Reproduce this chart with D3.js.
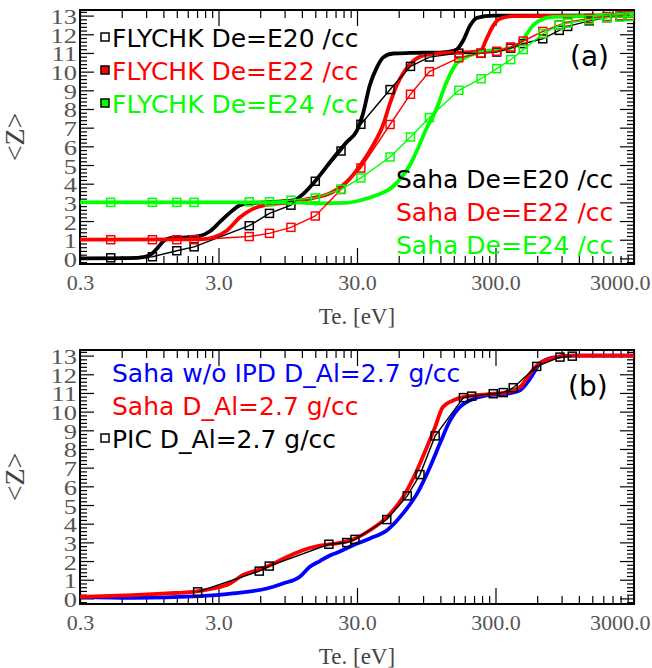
<!DOCTYPE html>
<html>
<head>
<meta charset="utf-8">
<script src="https://cdn.jsdelivr.net/npm/d3@7"></script>
<style>
  body { margin: 0; background: #fff; }
</style>
</head>
<body>
<svg id="chart" width="652" height="668"></svg>
<script>
// ---- axis ticks
const xMajor = [0.3, 3, 30, 300, 3000];
const xLabels = ["0.3", "3.0", "30.0", "300.0", "3000.0"];
const zMajor = [0, 1, 2, 3, 4, 5, 6, 7, 8, 9, 10, 11, 12, 13];
const zLabels = ["0", "1", "2", "3", "4", "5", "6", "7", "8", "9", "10", "11", "12", "13"];

// ---- panel (a): FLYCHK (thin, squares), same temperature grid
const flyT = [0.5, 1, 1.5, 2, 5, 7, 10, 15, 23, 32, 52, 73, 100, 163, 236, 306, 386, 476, 658, 866, 996, 1426, 1906, 2378, 2806];
const flyE20 = [0.03, 0.09, 0.41, 0.62, 1.75, 2.41, 2.85, 4.13, 5.75, 7.18, 9.04, 10.28, 10.78, 10.99, 10.98, 11.05, 11.26, 11.5, 11.76, 12.21, 12.42, 12.72, 12.89, 12.96, 12.99];
const flyE22 = [1.0, 1.0, 1.0, 1.0, 1.17, 1.34, 1.66, 2.27, 3.69, 4.84, 7.17, 8.79, 10.0, 10.74, 10.99, 11.09, 11.32, 11.64, 12.15, 12.5, 12.65, 12.85, 12.95, 12.98, 13.0];
const flyE24 = [3.0, 3.0, 3.0, 3.0, 3.03, 3.03, 3.12, 3.24, 3.7, 4.31, 5.43, 6.5, 7.54, 9.0, 9.62, 10.16, 10.64, 11.18, 12.03, 12.48, 12.6, 12.78, 12.89, 12.92, 12.95];

// ---- panel (a): Saha (thick)
const sahaE20T = [0.3, 0.69, 0.88, 0.99, 1.10, 1.21, 1.34, 1.72, 2.21, 2.60, 3.07, 3.63, 4.29, 5.06, 6.5, 10.35, 11.6, 15, 20.1, 25.4, 30, 33, 37.2, 41.6, 46.2, 54.6, 72.4, 119, 153, 175, 196, 220, 288, 3000];
const sahaE20Z = [0, 0.01, 0.08, 0.25, 0.6, 0.95, 1.08, 1.12, 1.2, 1.45, 1.95, 2.45, 2.85, 2.96, 3.0, 3.1, 3.3, 4.15, 5.35, 6.24, 6.85, 7.7, 9.3, 10.2, 10.75, 10.97, 11.0, 11.02, 11.12, 11.65, 12.45, 12.88, 13.0, 13.0];
const sahaE22T = [0.3, 2.21, 2.74, 3.46, 4.29, 5.32, 6.72, 9.85, 13.7, 20.1, 26.7, 31.5, 39.2, 46.2, 51.9, 58.4, 64.5, 72.4, 85.5, 110, 232, 260, 288, 323, 401, 3000];
const sahaE22Z = [1.0, 1.02, 1.12, 1.5, 2.2, 2.65, 2.87, 3.0, 3.2, 3.56, 4.28, 4.95, 6.06, 7.13, 8.3, 9.3, 9.9, 10.4, 10.8, 10.96, 11.08, 11.8, 12.45, 12.83, 12.97, 13.0];
const sahaE24T = [0.3, 9.85, 16.2, 24.6, 31.5, 40.5, 54.6, 64.5, 72.4, 82.7, 94.5, 111.5, 134, 155.6, 187, 260, 363, 451, 506, 560, 628, 780, 3000];
const sahaE24Z = [3.0, 3.0, 2.95, 2.97, 3.1, 3.35, 3.85, 4.45, 5.0, 5.9, 6.9, 7.95, 9.5, 10.4, 10.8, 11.1, 11.22, 11.5, 12.03, 12.48, 12.74, 12.93, 13.0];

// ---- panel (b)
const noIpdT = [0.3, 0.724, 2.21, 3.82, 6.72, 8.77, 11.6, 13.7, 16.2, 19.1, 21.5, 28.1, 37.2, 49.4, 64.5, 81.4, 101, 119, 141, 166, 196, 260, 363, 451, 532, 628, 780, 1088, 3000];
const noIpdZ = [0.08, 0.03, 0.12, 0.27, 0.53, 0.8, 1.16, 1.69, 2.0, 2.3, 2.45, 2.85, 3.21, 3.65, 4.55, 5.61, 7.04, 8.29, 9.53, 10.25, 10.6, 10.87, 10.96, 11.14, 11.76, 12.57, 12.89, 13.0, 13.0];
const ipdT = [0.3, 0.724, 1.27, 1.96, 2.74, 3.63, 4.51, 5.69, 7.06, 9.37, 12.2, 16.2, 21.5, 28.1, 37.2, 49.4, 64.5, 81.4, 96, 110, 125, 148, 175, 260, 363, 451, 532, 598, 742, 1035, 3000];
const ipdZ = [0.08, 0.18, 0.27, 0.35, 0.53, 0.8, 1.25, 1.51, 1.78, 2.22, 2.58, 2.82, 2.95, 3.16, 3.65, 4.36, 5.43, 6.86, 8.11, 9.18, 10.25, 10.6, 10.78, 10.93, 11.05, 11.32, 12.03, 12.48, 12.83, 13.0, 13.0];
const picT = [2.12, 5.91, 6.98, 18.8, 25.3, 29.0, 49.2, 69.2, 85.5, 110, 176, 202, 289, 341, 403, 595, 877, 1075];
const picZ = [0.35, 1.46, 1.73, 2.9, 2.99, 3.16, 4.22, 5.49, 6.63, 8.7, 10.75, 10.83, 10.96, 11.02, 11.28, 12.42, 12.92, 12.97];

const SERIF = '"Liberation Serif", "Times New Roman", serif';
const SANS = '"DejaVu Sans", sans-serif';

const svg = d3.select("#chart");
const left = 80, right = 634;
const x = d3.scaleLog().domain([0.3, 3000]).range([left, right]);

const xMinor = [];
xMajor.slice(0, -1).forEach(m => { for (let k = 2; k <= 9; k++) xMinor.push(m * k); });
const zMinor = d3.range(-0.2, 13.3, 0.2).map(v => +v.toFixed(1)).filter(v => Math.abs(v - Math.round(v)) > 1e-6);

const zip = (t, z) => t.map((d, i) => ({t: d, z: z[i]}));

function panel(id, top, bottom) {
  const y = d3.scaleLinear().domain([-0.3, 13.3]).range([bottom, top]);
  const g = svg.append("g");

  g.append("clipPath").attr("id", "clip" + id)
    .append("rect").attr("x", left).attr("y", top)
    .attr("width", right - left).attr("height", bottom - top);

  const styleAxis = sel => {
    sel.select(".domain").remove();
    sel.selectAll("line").attr("stroke", "#000").attr("stroke-width", 1.2);
  };

  // bottom axis with labels (last label kept inside the page, as in the original)
  g.append("g").attr("transform", `translate(0,${bottom})`)
    .call(d3.axisBottom(x).tickValues(xMajor).tickSize(-16).tickSizeOuter(0)
      .tickFormat((d, i) => xLabels[i]))
    .call(styleAxis)
    .call(s => s.selectAll("text").attr("y", 26).attr("dy", null)
      .style("font-size", "22px").style("font-family", SERIF).attr("fill", "#555"))
    .call(s => s.selectAll("text").filter(d => d === 3000)
      .attr("text-anchor", "end").attr("x", 16));
  g.append("g").attr("transform", `translate(0,${bottom})`)
    .call(d3.axisBottom(x).tickValues(xMinor).tickSize(-8).tickSizeOuter(0).tickFormat(""))
    .call(styleAxis);
  // top mirror
  g.append("g").attr("transform", `translate(0,${top})`)
    .call(d3.axisTop(x).tickValues(xMajor).tickSize(-16).tickSizeOuter(0).tickFormat(""))
    .call(styleAxis);
  g.append("g").attr("transform", `translate(0,${top})`)
    .call(d3.axisTop(x).tickValues(xMinor).tickSize(-8).tickSizeOuter(0).tickFormat(""))
    .call(styleAxis);

  // left axis with labels
  g.append("g").attr("transform", `translate(${left},0)`)
    .call(d3.axisLeft(y).tickValues(zMajor).tickSize(-14).tickSizeOuter(0)
      .tickFormat((d, i) => zLabels[i]))
    .call(styleAxis)
    .call(s => s.selectAll("text").attr("x", null).attr("dy", null)
      .attr("transform", "translate(-3,8) scale(1.2,1)")
      .style("font-size", "22px").style("font-family", SERIF).attr("fill", "#555"));
  g.append("g").attr("transform", `translate(${left},0)`)
    .call(d3.axisLeft(y).tickValues(zMinor).tickSize(-7).tickSizeOuter(0).tickFormat(""))
    .call(styleAxis);
  // right mirror
  g.append("g").attr("transform", `translate(${right},0)`)
    .call(d3.axisRight(y).tickValues(zMajor).tickSize(-14).tickSizeOuter(0).tickFormat(""))
    .call(styleAxis);
  g.append("g").attr("transform", `translate(${right},0)`)
    .call(d3.axisRight(y).tickValues(zMinor).tickSize(-7).tickSizeOuter(0).tickFormat(""))
    .call(styleAxis);

  g.append("rect").attr("x", left).attr("y", top)
    .attr("width", right - left).attr("height", bottom - top)
    .attr("fill", "none").attr("stroke", "#000").attr("stroke-width", 2);

  // titles
  g.append("text").attr("x", (left + right) / 2).attr("y", bottom + 60)
    .attr("text-anchor", "middle").style("font-family", SERIF)
    .style("font-size", "23px").attr("fill", "#444").text("Te. [eV]");
  g.append("text")
    .attr("transform", `translate(24,${(top + bottom) / 2}) rotate(-90)`)
    .attr("text-anchor", "middle").style("font-family", SERIF)
    .style("font-size", "28px").attr("fill", "#444").text("<Z>");

  const plot = g.append("g").attr("clip-path", `url(#clip${id})`);
  return {g, y, plot};
}

function thick(p, data, color) {
  p.plot.append("path").datum(data)
    .attr("fill", "none").attr("stroke", color).attr("stroke-width", 3.8)
    .attr("stroke-linejoin", "round")
    .attr("d", d3.line().x(d => x(d.t)).y(d => p.y(d.z)).curve(d3.curveMonotoneX));
}

function thin(p, data, color) {
  p.plot.append("path").datum(data)
    .attr("fill", "none").attr("stroke", color).attr("stroke-width", 1.4)
    .attr("d", d3.line().x(d => x(d.t)).y(d => p.y(d.z)));
  p.plot.selectAll(null).data(data).enter().append("rect")
    .attr("x", d => x(d.t) - 4).attr("y", d => p.y(d.z) - 4)
    .attr("width", 8).attr("height", 8)
    .attr("fill", "none").attr("stroke", color).attr("stroke-width", 1.5);
}

function label(g, xx, yy, txt, color, size) {
  g.append("text").attr("x", xx).attr("y", yy)
    .style("font-family", SANS).style("font-size", size + "px")
    .attr("fill", color).text(txt);
}

// ---------- panel (a)
const pa = panel("a", 10, 264);
thick(pa, zip(sahaE20T, sahaE20Z), "#000000");
thick(pa, zip(sahaE22T, sahaE22Z), "#ff0000");
thick(pa, zip(sahaE24T, sahaE24Z), "#00ff00");
thin(pa, zip(flyT, flyE20), "#000000");
thin(pa, zip(flyT, flyE22), "#ff0000");
thin(pa, zip(flyT, flyE24), "#00ff00");

const legA = [
  {label: "FLYCHK De=E20 /cc", color: "#000000", fill: "#ffffff"},
  {label: "FLYCHK De=E22 /cc", color: "#ff0000", fill: "#ff0000"},
  {label: "FLYCHK De=E24 /cc", color: "#00ff00", fill: "#00ff00"}
];
legA.forEach((d, i) => {
  const by = 47 + i * 33;
  pa.g.append("rect").attr("x", 101).attr("y", by - 14).attr("width", 8).attr("height", 8)
    .attr("fill", d.fill).attr("stroke", "#000").attr("stroke-width", 1.5);
  label(pa.g, 112, by, d.label, d.color, 25);
});
const sahaLeg = [
  {label: "Saha De=E20 /cc", color: "#000000"},
  {label: "Saha De=E22 /cc", color: "#ff0000"},
  {label: "Saha De=E24 /cc", color: "#00ff00"}
];
sahaLeg.forEach((d, i) => label(pa.g, 396, 188 + i * 33, d.label, d.color, 25));
label(pa.g, 570, 66, "(a)", "#000", 28);

// ---------- panel (b)
const pb = panel("b", 350, 604);
thick(pb, zip(noIpdT, noIpdZ), "#0000ff");
thick(pb, zip(ipdT, ipdZ), "#ff0000");
thin(pb, zip(picT, picZ), "#000000");

const legB = [
  {label: "Saha w/o IPD D_Al=2.7 g/cc", color: "#0000ff"},
  {label: "Saha D_Al=2.7 g/cc", color: "#ff0000"},
  {label: "PIC D_Al=2.7 g/cc", color: "#000000", box: true}
];
legB.forEach((d, i) => {
  const by = 382 + i * 33;
  if (d.box) pb.g.append("rect").attr("x", 101).attr("y", by - 14).attr("width", 8).attr("height", 8)
    .attr("fill", "#fff").attr("stroke", "#000").attr("stroke-width", 1.5);
  label(pb.g, 112, by, d.label, d.color, 25);
});
label(pb.g, 568, 396, "(b)", "#000", 28);
</script>
</body>
</html>
